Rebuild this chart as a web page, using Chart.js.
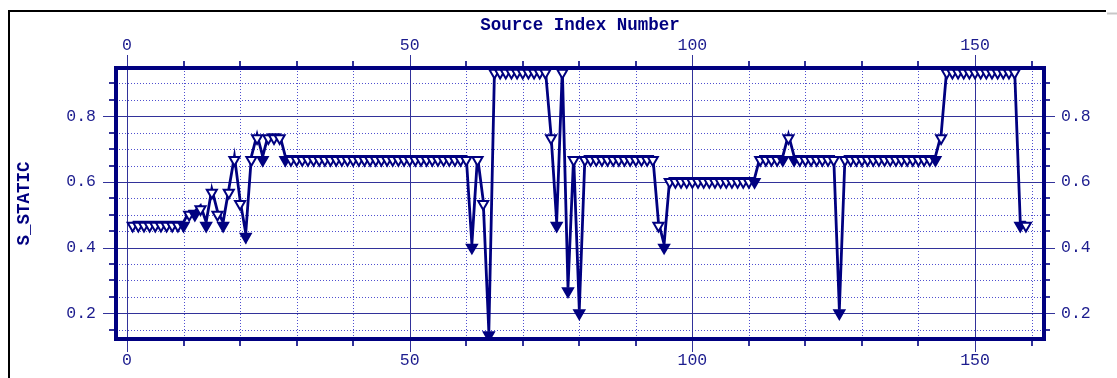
<!DOCTYPE html>
<html lang="en">
<head>
<meta charset="UTF-8">
<title>S_STATIC</title>
<script src="https://cdn.jsdelivr.net/npm/chart.js@4/dist/chart.umd.min.js"></script>
<style>
  html, body { margin: 0; padding: 0; background: #fff; }
  #wrap { width: 1117px; height: 378px; }
</style>
</head>
<body>
<div id="wrap"><canvas id="grafico" width="1117" height="378"></canvas></div>
<script>
  // S_STATIC for each source, sources numbered from 1
  const firstIndex = 1;
  const sStatic = [
    0.467, 0.467, 0.467, 0.467, 0.467, 0.467, 0.467, 0.467, 0.467, 0.467,
    0.5, 0.5, 0.517, 0.467, 0.567, 0.5, 0.467, 0.567, 0.667, 0.533,
    0.433, 0.667, 0.733, 0.667, 0.733, 0.733, 0.733, 0.667, 0.667, 0.667,
    0.667, 0.667, 0.667, 0.667, 0.667, 0.667, 0.667, 0.667, 0.667, 0.667,
    0.667, 0.667, 0.667, 0.667, 0.667, 0.667, 0.667, 0.667, 0.667, 0.667,
    0.667, 0.667, 0.667, 0.667, 0.667, 0.667, 0.667, 0.667, 0.667, 0.667,
    0.4, 0.667, 0.533, 0.133, 0.933, 0.933, 0.933, 0.933, 0.933, 0.933,
    0.933, 0.933, 0.933, 0.933, 0.733, 0.467, 0.933, 0.267, 0.667, 0.2,
    0.667, 0.667, 0.667, 0.667, 0.667, 0.667, 0.667, 0.667, 0.667, 0.667,
    0.667, 0.667, 0.667, 0.467, 0.4, 0.6, 0.6, 0.6, 0.6, 0.6,
    0.6, 0.6, 0.6, 0.6, 0.6, 0.6, 0.6, 0.6, 0.6, 0.6,
    0.6, 0.667, 0.667, 0.667, 0.667, 0.667, 0.733, 0.667, 0.667, 0.667,
    0.667, 0.667, 0.667, 0.667, 0.667, 0.2, 0.667, 0.667, 0.667, 0.667,
    0.667, 0.667, 0.667, 0.667, 0.667, 0.667, 0.667, 0.667, 0.667, 0.667,
    0.667, 0.667, 0.667, 0.733, 0.933, 0.933, 0.933, 0.933, 0.933, 0.933,
    0.933, 0.933, 0.933, 0.933, 0.933, 0.933, 0.933, 0.467, 0.467
  ];
  const sourceIndex = sStatic.map((_, i) => firstIndex + i);

  const xLabels = [0, 50, 100, 150];
  const yLabels = [0.2, 0.4, 0.6, 0.8];
  const xRange = [-1.95, 162.2];
  const yRange = [0.1215, 0.947];
  const xMinorStep = 10;
  const yMinorStep = 0.05;

  const NAVY = '#000080';
  const LABEL = '#1c1c8e';
  const GRID = '#32329a';
  const DOTS = '#5050d0';
  const LINE_LIFT = 3.5; // the trace runs along the top edge of the markers

  const tickFont = { family: 'Liberation Mono', size: 16.5 };
  const titleFont = { family: 'Liberation Mono', size: 17.5, weight: 'bold' };

  // a point lower than its neighbours gets a solid marker
  function isDip(i) {
    const v = sStatic[i];
    const prev = i > 0 ? sStatic[i - 1] : v;
    const next = i < sStatic.length - 1 ? sStatic[i + 1] : v;
    return v <= prev && v <= next && (v < prev || v < next);
  }

  function steps(lo, hi, step) {
    const out = [];
    for (let k = Math.ceil(lo / step - 1e-9); k * step <= hi + 1e-9; k++) out.push(+(k * step).toFixed(4));
    return out;
  }
  const isMajor = (v, labels) => labels.some(l => Math.abs(l - v) < 1e-6);

  function xAxis(position, size, extra) {
    return Object.assign({
      type: 'linear', position, min: xRange[0], max: xRange[1],
      grid: { display: false, drawTicks: false }, border: { display: false },
      ticks: { font: tickFont, color: LABEL, padding: 12, maxRotation: 0, autoSkip: false, callback: v => String(v) },
      afterBuildTicks: s => { s.ticks = xLabels.map(v => ({ value: v })); },
      afterFit: s => { s.height = size; }
    }, extra);
  }
  function yAxis(position, size, pad, extra) {
    return Object.assign({
      type: 'linear', position, min: yRange[0], max: yRange[1],
      grid: { display: false, drawTicks: false }, border: { display: false },
      ticks: { font: tickFont, color: LABEL, padding: pad, autoSkip: false, callback: v => v.toFixed(1) },
      afterBuildTicks: s => { s.ticks = yLabels.map(v => ({ value: v })); },
      afterFit: s => { s.width = size; }
    }, extra);
  }

  // graph paper: dotted minor grid, solid major grid, tick marks and the heavy frame
  const graphPaper = {
    id: 'graphPaper',
    beforeDatasetsDraw(chart) {
      const { ctx, chartArea: a, scales: { x, y } } = chart;
      ctx.save();
      ctx.lineWidth = 1;
      ctx.strokeStyle = DOTS;
      ctx.setLineDash([1, 2]);
      steps(0, xRange[1], xMinorStep).forEach(v => {
        if (isMajor(v, xLabels)) return;
        const px = Math.round(x.getPixelForValue(v)) + 0.5;
        ctx.beginPath(); ctx.moveTo(px, a.top); ctx.lineTo(px, a.bottom); ctx.stroke();
      });
      steps(yRange[0], yRange[1] - 0.01, yMinorStep).forEach(v => {
        if (isMajor(v, yLabels)) return;
        const py = Math.round(y.getPixelForValue(v)) + 0.5;
        ctx.beginPath(); ctx.moveTo(a.left, py); ctx.lineTo(a.right, py); ctx.stroke();
      });
      ctx.setLineDash([]);
      ctx.strokeStyle = GRID;
      xLabels.forEach(v => {
        const px = Math.round(x.getPixelForValue(v)) + 0.5;
        ctx.beginPath(); ctx.moveTo(px, a.top - 13); ctx.lineTo(px, a.bottom + 13); ctx.stroke();
      });
      yLabels.forEach(v => {
        const py = Math.round(y.getPixelForValue(v)) + 0.5;
        ctx.beginPath(); ctx.moveTo(a.left - 13, py); ctx.lineTo(a.right + 11, py); ctx.stroke();
      });
      ctx.restore();
    },
    afterDatasetsDraw(chart) {
      const { ctx, chartArea: a, scales: { x, y } } = chart;
      ctx.save();
      ctx.strokeStyle = GRID;
      ctx.lineWidth = 2;
      steps(0, xRange[1], xMinorStep).forEach(v => {
        if (isMajor(v, xLabels)) return;
        const px = Math.round(x.getPixelForValue(v));
        ctx.beginPath(); ctx.moveTo(px, a.top - 7); ctx.lineTo(px, a.top); ctx.stroke();
        ctx.beginPath(); ctx.moveTo(px, a.bottom); ctx.lineTo(px, a.bottom + 7); ctx.stroke();
      });
      steps(yRange[0], yRange[1] - 0.01, yMinorStep).forEach(v => {
        if (isMajor(v, yLabels)) return;
        const py = Math.round(y.getPixelForValue(v));
        ctx.beginPath(); ctx.moveTo(a.left - 7, py); ctx.lineTo(a.left, py); ctx.stroke();
        ctx.beginPath(); ctx.moveTo(a.right, py); ctx.lineTo(a.right + 6, py); ctx.stroke();
      });
      ctx.strokeStyle = NAVY;
      ctx.lineWidth = 4;
      ctx.strokeRect(a.left, a.top, a.right - a.left, a.bottom - a.top);
      ctx.restore();
    },
    afterDraw(chart) {
      const { ctx, width } = chart;
      ctx.save();
      ctx.strokeStyle = '#000';
      ctx.lineWidth = 2;
      ctx.beginPath();
      ctx.moveTo(9, chart.height); ctx.lineTo(9, 11); ctx.lineTo(1106, 11);
      ctx.stroke();
      ctx.strokeStyle = '#c8c8c8';
      ctx.beginPath(); ctx.moveTo(1107, 13.5); ctx.lineTo(width, 13.5); ctx.stroke();
      ctx.restore();
    }
  };

  // draws the connecting trace a little above the marker centres
  const liftLine = {
    id: 'liftLine',
    beforeDatasetDraw(chart, args) {
      if (args.index === 1) { chart.ctx.save(); chart.ctx.translate(0, -LINE_LIFT); }
    },
    afterDatasetDraw(chart, args) {
      if (args.index === 1) chart.ctx.restore();
    }
  };

  const ctx = document.getElementById('grafico').getContext('2d');
  new Chart(ctx, {
    type: 'line',
    data: {
      labels: sourceIndex,
      datasets: [
        {
          label: 'S_STATIC',
          data: sStatic,
          showLine: false,
          pointStyle: 'triangle',
          pointRotation: 180,
          pointRadius: 5.8,
          pointBorderWidth: 2,
          pointBorderColor: NAVY,
          pointBackgroundColor: c => isDip(c.dataIndex) ? NAVY : '#ffffff',
          order: 0
        },
        {
          label: 'S_STATIC',
          data: sStatic,
          borderColor: NAVY,
          borderWidth: 2.8,
          pointRadius: 0,
          tension: 0,
          order: 1
        }
      ]
    },
    options: {
      responsive: false,
      animation: false,
      events: [],
      layout: { padding: 0 },
      plugins: { legend: { display: false }, tooltip: { enabled: false } },
      scales: {
        x: xAxis('bottom', 39),
        x2: xAxis('top', 68, {
          title: { display: true, text: 'Source Index Number', font: titleFont, color: NAVY, padding: { top: 15, bottom: 0 } }
        }),
        y: yAxis('left', 116, 20, {
          title: { display: true, text: 'S_STATIC', font: titleFont, color: NAVY, padding: { top: 14, bottom: 0 } }
        }),
        y2: yAxis('right', 73, 17)
      }
    },
    plugins: [graphPaper, liftLine]
  });
</script>
</body>
</html>
